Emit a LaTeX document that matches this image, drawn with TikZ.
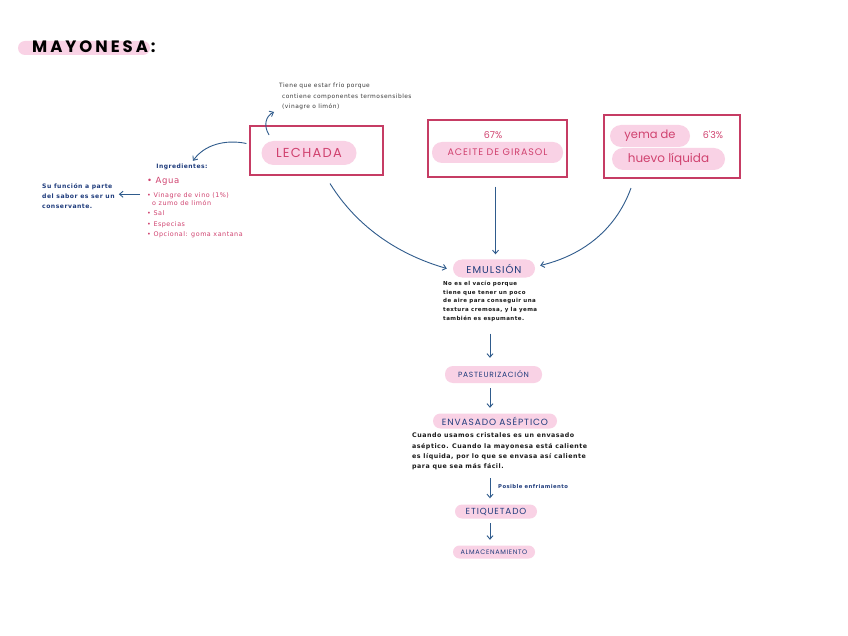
\documentclass[tikz,border=0pt]{standalone}
\usepackage{fontspec}
\setmainfont{DejaVu Sans}
\newfontfamily\capsfont{Poppins}[LetterSpace=10]
\newfontfamily\titlefont{Poppins}[LetterSpace=18]
\newfontfamily\handfont{DejaVu Sans}[LetterSpace=8]
\newfontfamily\pinkhand{Poppins}
\usetikzlibrary{arrows.meta}
\definecolor{pinkfill}{HTML}{F9D2E5}
\definecolor{boxred}{HTML}{C63C64}
\definecolor{pinktext}{HTML}{D0426F}
\definecolor{navy}{HTML}{1F3C7C}
\definecolor{arrowblue}{HTML}{2F5B8C}
\definecolor{notegray}{HTML}{3A3A3A}
\definecolor{inkblack}{HTML}{1A1A1A}
\begin{document}
\begin{tikzpicture}[x=1pt,y=-1pt,
  pill/.style={fill=pinkfill, inner sep=0pt, minimum height=16pt, rounded corners=8pt},
  redbox/.style={draw=boxred, line width=1.1pt, inner sep=0pt},
  stepcaps/.style={text=navy, font=\capsfont\fontsize{7.5}{8}\selectfont},
  arr/.style={draw=arrowblue, line width=0.9pt, -{Straight Barb[length=3.5pt,width=6pt]}},
  smalltext/.style={text=inkblack, align=left, inner sep=0pt},
  ingline/.style={text=pinktext, font=\handfont\fontsize{6.4}{6.4}\selectfont, anchor=base west, inner sep=0pt}
]
\useasboundingbox[fill=white] (0,0) rectangle (848,636);

% title
\node[fill=pinkfill, minimum width=132pt, minimum height=14pt, rounded corners=7pt, inner sep=0pt] (titlebg) at (84,48) {};
\node[anchor=west, inner sep=0pt, font=\titlefont\bfseries\fontsize{16.5}{16.5}\selectfont] (title) at (32,47) {MAYONESA:};

% top note
\node[smalltext, text=notegray, font=\handfont\fontsize{5.9}{10.5}\selectfont, anchor=north west] (note) at (279,83)
  {Tiene que estar frío porque\\ \hspace*{3pt}contiene componentes termosensibles\\ \hspace*{3pt}(vinagre o limón)};

% boxes
\node[redbox, minimum width=133pt, minimum height=49pt] (lechbox) at (316.5,150.5) {};
\node[pill, minimum width=95pt, minimum height=24pt, rounded corners=12pt, text=pinktext,
      font=\capsfont\fontsize{13}{13}\selectfont] (lech) at (309,153) {LECHADA};

\node[redbox, minimum width=139pt, minimum height=57pt] (acebox) at (497.5,148.5) {};
\node[text=pinktext, font=\pinkhand\fontsize{9.5}{9.5}\selectfont, inner sep=0pt] (pct67) at (493,135) {67\%};
\node[pill, minimum width=131pt, minimum height=21pt, rounded corners=10pt, text=pinktext,
      font=\capsfont\fontsize{9.5}{10}\selectfont] (ace) at (497.5,152.5) {ACEITE DE GIRASOL};

\node[redbox, minimum width=136pt, minimum height=63pt] (yemabox) at (672,146.5) {};
\node[pill, minimum width=80pt, minimum height=22pt, rounded corners=11pt, text=pinktext,
      font=\pinkhand\fontsize{11.5}{11.5}\selectfont] (yema) at (650,136) {yema de};
\node[text=pinktext, font=\pinkhand\fontsize{9.5}{9.5}\selectfont, inner sep=0pt] (pct63) at (713,135) {6'3\%};
\node[pill, minimum width=113pt, minimum height=22pt, rounded corners=11pt, text=pinktext,
      font=\pinkhand\fontsize{12}{12}\selectfont] (huevo) at (668.5,159) {huevo líquida};

% ingredients
\node[text=navy, font=\handfont\bfseries\fontsize{6}{6}\selectfont, inner sep=0pt] (ingtitle) at (182,167) {Ingredientes:};
\node[ingline, font=\handfont\fontsize{8.5}{8.5}\selectfont] (ing1) at (147,184) {• Agua};
\node[ingline] (ing2) at (147,198) {• Vinagre de vino (1\%)};
\node[ingline] (ing2b) at (152,206) {o zumo de limón};
\node[ingline] (ing3) at (147,216) {• Sal};
\node[ingline] (ing4) at (147,227) {• Especias};
\node[ingline] (ing5) at (147,237) {• Opcional: goma xantana};

\node[smalltext, text=navy, anchor=north west, font=\handfont\bfseries\fontsize{6.1}{10}\selectfont] (leftnote) at (42,183)
  {Su función a parte\\del sabor es ser un\\conservante.};

% process
\node[pill, minimum width=82pt, minimum height=18pt, rounded corners=9pt, stepcaps,
      font=\capsfont\fontsize{10}{10}\selectfont] (emul) at (494,268.5) {EMULSIÓN};
\node[smalltext, anchor=north west, font=\handfont\bfseries\fontsize{5.5}{8.7}\selectfont] (emultext) at (443,281)
  {No es el vacío porque\\tiene que tener un poco\\de aire para conseguir una\\textura cremosa, y la yema\\también es espumante.};

\node[pill, minimum width=97pt, minimum height=17pt, stepcaps] (paste) at (493.5,374.5) {PASTEURIZACIÓN};
\node[pill, minimum width=124pt, minimum height=15pt, rounded corners=7.5pt, stepcaps,
      font=\capsfont\fontsize{9}{9}\selectfont] (envas) at (495,421) {ENVASADO ASÉPTICO};
\node[smalltext, anchor=north west, font=\handfont\bfseries\fontsize{6.3}{10.2}\selectfont] (envtext) at (412,433)
  {Cuando usamos cristales es un envasado\\aséptico. Cuando la mayonesa está caliente\\es líquida, por lo que se envasa así caliente\\para que sea más fácil.};

\node[pill, minimum width=82pt, minimum height=14pt, rounded corners=7pt, stepcaps,
      font=\capsfont\fontsize{8.8}{9}\selectfont] (etiq) at (496,511.5) {ETIQUETADO};
\node[pill, minimum width=82pt, minimum height=13pt, rounded corners=6.5pt, stepcaps,
      font=\capsfont\fontsize{6.5}{7}\selectfont] (alma) at (494,552) {ALMACENAMIENTO};

\node[text=navy, font=\handfont\bfseries\fontsize{5.3}{6}\selectfont, anchor=west, inner sep=0pt] (enfria) at (498,487) {Posible enfriamiento};

% connector end points
\coordinate (notetail) at (269,135);
\coordinate (notehead) at (274,112);
\coordinate (aceout) at ([shift={(-2,9)}]acebox.south);
\coordinate (ingarr) at ([shift={(-7,-2)}]ing2.west);
\coordinate (a1) at ([xshift=-3.5]paste.north |- emultext.south);
\coordinate (a3) at ([xshift=-6]etiq.north |- envtext.south);

% connectors
\draw[arr] (notetail) .. controls (263,125) and (266,116) .. (notehead);
\draw[arr] ([shift={(-3,-7)}]lechbox.west) .. controls (225,139) and (204,145) .. ([shift={(11,-3)}]ingtitle.north);
\draw[arr] (ingarr) -- ([xshift=4]ingarr -| leftnote.east);

\draw[arr] ([shift={(13.5,8)}]lechbox.south) .. controls (362,235) and (410,258) .. ([xshift=-6]emul.west);
\draw[arr] (aceout) -- ([shift={(0,-5)}]aceout |- emul.north);
\draw[arr] ([shift={(-41,9.5)}]yemabox.south) .. controls (615,232) and (580,256) .. ([shift={(5,-3)}]emul.east);

\draw[arr] ([shift={(0,12)}]a1) -- ([shift={(0,-8)}]paste.north -| a1);
\draw[arr] ([shift={(-3.5,5)}]paste.south) -- ([shift={(-3.5,-5.5)}]paste.south |- envas.north);
\draw[arr] ([shift={(0,8)}]a3) -- ([shift={(0,-6)}]etiq.north -| a3);
\draw[arr] ([shift={(-6,4.5)}]etiq.south) -- ([shift={(-6,-5.5)}]etiq.south |- alma.north);
\end{tikzpicture}
\end{document}
